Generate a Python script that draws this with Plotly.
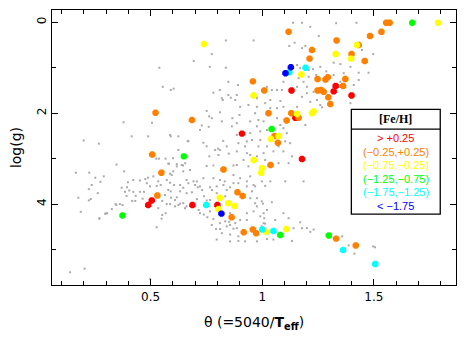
import plotly.graph_objects as go

# Background sample: theta and log g of the comparison stars
bg_theta = [
    0.837, 0.774, 0.693, 0.765, 0.837, 0.539, 0.848, 0.891, 0.554, 0.590, 0.603, 0.781, 0.810,
    0.819, 0.823, 0.848, 0.859, 0.886, 0.751, 0.811, 0.762, 0.866, 0.898, 0.379, 0.506, 0.729,
    0.760, 0.415, 0.590, 0.666, 0.825, 0.736, 0.200, 0.268, 0.841, 0.802, 0.810, 0.624, 0.804,
    0.763, 0.850, 0.525, 0.537, 0.567, 0.600, 0.582, 0.617, 0.645, 0.655, 0.347, 0.751, 0.781,
    0.871, 0.381, 0.165, 0.225, 0.252, 0.290, 0.275, 0.236, 0.223, 0.263, 0.176, 0.232, 0.223,
    0.187, 0.270, 0.305, 0.296, 0.343, 0.362, 0.374, 0.326, 0.385, 0.404, 0.394, 0.370, 0.422,
    0.431, 0.433, 0.452, 0.470, 0.452, 0.483, 0.476, 0.422, 0.398, 0.488, 0.464, 0.417, 0.346,
    0.300, 0.271, 0.204, 0.139, 0.498, 0.579, 0.639, 0.527, 0.572, 0.587, 0.605, 0.632, 0.646,
    0.590, 0.564, 0.591, 0.617, 0.552, 0.572, 0.587, 0.632, 0.646, 0.534, 0.552, 0.567, 0.549,
    0.527, 0.661, 0.685, 0.711, 0.730, 0.707, 0.739, 0.751, 0.661, 0.715, 0.738, 0.754, 0.781,
    0.793, 0.811, 0.852, 0.856, 0.871, 0.856, 0.893, 0.835, 0.781, 0.811, 0.832, 0.856, 0.871,
    0.796, 0.775, 0.692, 0.736, 0.661, 0.676, 0.601, 0.587, 0.557, 0.392, 0.545, 0.669, 0.707,
    0.721, 0.766, 0.624, 0.609, 0.654, 0.721, 0.766, 0.774, 0.811, 0.834, 0.841, 0.856, 0.879,
    0.886, 0.901, 0.931, 0.931, 0.961, 0.976, 0.991, 1.006, 1.021, 0.998, 0.976, 0.954, 0.968,
    0.931, 0.893, 0.841, 0.834, 0.766, 0.856, 0.893, 0.923, 0.976, 0.819, 0.796, 0.998, 1.013,
    1.036, 1.103, 1.185, 1.003, 1.043, 1.006, 1.009, 1.058, 1.095, 1.118, 1.170, 1.013, 0.998,
    1.140, 1.178, 1.200, 1.230, 1.358, 1.387, 1.497, 1.413, 1.133, 1.050, 1.021, 1.215, 1.505,
    1.138, 1.178, 1.215, 1.331, 1.422, 1.253, 1.145, 1.121, 1.178, 1.193, 0.961, 1.447, 1.497,
    1.320, 1.350, 1.395, 1.365, 1.432, 1.476, 1.208, 1.227, 1.260, 1.287, 1.156, 1.170, 1.163,
    1.185, 1.208, 1.242, 1.320, 1.350, 1.410, 1.432, 1.095, 1.156, 1.200, 1.230, 1.043, 1.066,
    1.088, 1.021, 1.178, 1.200, 1.215, 1.245, 1.260, 1.268, 1.081, 1.066, 1.095, 1.036, 1.156,
    1.395, 1.036, 0.976, 1.013, 0.976, 0.879, 0.901, 0.938, 1.066, 1.006, 0.946, 0.886, 0.976,
    1.021, 1.081, 1.095, 1.110, 1.103, 1.125, 1.073, 1.095, 1.050, 1.021, 0.991, 0.983, 1.006,
    0.976, 1.013, 0.946, 0.954, 0.923, 0.931, 0.893, 0.886, 1.156, 1.193, 1.133, 1.118, 1.073,
    0.938, 0.587, 0.624, 0.669, 0.751, 0.789, 0.721, 0.774, 0.819, 0.864, 0.886, 0.931, 0.968,
    0.983, 0.991, 0.946, 0.916, 0.886, 0.871, 0.901, 0.931, 0.961, 0.946, 0.826, 0.796, 0.699,
    0.646, 0.617, 0.594, 0.534, 0.512, 0.497, 0.579, 0.632, 0.609, 0.946, 0.968, 0.489,
]
bg_logg = [
    0.40, 0.70, 0.85, 0.98, 1.00, 1.00, 1.31, 1.38, 1.42, 1.49, 1.46, 1.55, 1.49,
    1.67, 1.71, 1.60, 1.66, 1.60, 1.95, 1.98, 2.07, 2.11, 2.04, 2.20, 2.21, 2.27,
    2.30, 2.51, 2.51, 2.61, 2.61, 2.65, 2.60, 2.67, 2.73, 2.78, 2.81, 2.81, 2.92,
    2.95, 2.89, 3.00, 3.00, 3.00, 2.99, 3.11, 3.12, 3.15, 3.10, 3.13, 3.16, 3.15,
    3.15, 3.28, 3.31, 3.31, 3.42, 3.39, 3.51, 3.58, 3.67, 3.76, 3.86, 3.89, 3.92,
    4.17, 4.32, 4.20, 4.21, 4.00, 4.00, 4.02, 4.11, 3.73, 3.70, 3.63, 3.64, 3.73,
    3.93, 3.82, 3.73, 3.73, 3.48, 3.54, 3.45, 3.47, 3.52, 3.42, 3.88, 3.93, 4.02,
    4.21, 4.31, 5.42, 5.50, 5.65, 3.11, 3.14, 3.60, 3.47, 3.53, 3.58, 3.58, 3.64,
    3.72, 3.80, 3.86, 3.85, 3.93, 4.00, 4.00, 3.99, 3.98, 4.09, 4.24, 4.20, 4.32,
    4.51, 3.76, 3.74, 3.63, 3.69, 3.89, 3.83, 3.92, 4.05, 4.13, 4.23, 4.29, 4.33,
    4.55, 4.55, 4.39, 4.46, 4.54, 4.82, 4.81, 3.21, 3.43, 3.47, 3.50, 3.63, 3.54,
    3.76, 3.69, 3.50, 3.43, 3.47, 3.25, 3.28, 3.33, 3.28, 3.82, 3.58, 3.54, 3.50,
    3.61, 3.63, 4.02, 4.05, 4.09, 4.20, 4.16, 4.46, 4.42, 4.38, 4.49, 4.20, 4.42,
    4.53, 4.35, 4.35, 4.20, 4.16, 4.05, 4.27, 4.42, 4.13, 3.94, 3.87, 3.72, 3.61,
    3.61, 3.54, 3.69, 3.83, 3.91, 4.67, 4.71, 4.82, 4.82, 4.64, 4.78, 3.50, 3.60,
    3.50, 3.50, 3.50, 3.99, 3.96, 4.20, 4.31, 4.35, 4.20, 4.31, 4.40, 4.43, 4.49,
    4.53, 4.53, 4.53, 4.56, 4.71, 4.91, 4.93, 5.09, 4.81, 4.78, 4.77, 4.61, 4.95,
    0.01, 0.01, 0.10, 0.02, 0.01, 0.30, 0.45, 0.52, 0.57, 0.52, 0.40, 0.61, 0.70,
    0.89, 0.92, 0.98, 1.12, 1.11, 1.11, 1.05, 1.03, 0.98, 1.08, 0.94, 1.01, 1.23,
    1.31, 1.20, 1.16, 1.16, 1.31, 1.38, 1.27, 1.31, 1.42, 1.42, 1.53, 1.49, 1.49,
    1.49, 1.42, 1.64, 1.56, 1.75, 1.71, 1.82, 1.87, 1.73, 1.89, 1.86, 1.89, 1.86,
    1.78, 1.71, 1.67, 1.78, 1.86, 1.71, 1.86, 1.82, 2.11, 2.18, 2.18, 2.22, 2.29,
    2.37, 2.26, 2.33, 2.44, 2.62, 2.66, 2.73, 2.84, 2.84, 2.73, 2.59, 2.73, 2.88,
    2.95, 3.03, 2.44, 2.59, 2.73, 2.88, 2.66, 2.84, 2.15, 2.26, 2.95, 3.10, 3.10,
    3.17, 2.48, 2.51, 2.62, 2.73, 2.81, 2.37, 2.11, 2.18, 2.29, 2.48, 2.62, 2.00,
    2.15, 2.40, 2.92, 3.03, 3.14, 3.36, 3.43, 3.50, 3.58, 3.39, 3.58, 3.61, 3.58,
    3.28, 3.17, 3.36, 3.50, 3.39, 3.61, 3.69, 3.72, 3.91, 3.87, 3.98, 2.51,
]

# Programme stars, grouped by [Fe/H] bin
theta_hi = [1.131, 1.329, 1.320, 1.400, 0.909, 1.178, 1.148, 0.489, 0.505, 0.687, 0.799]
logg_hi = [1.50, 1.40, 1.52, 1.61, 2.45, 3.01, 2.10, 4.02, 3.92, 4.02, 4.02]

theta_solar = [1.555, 1.571, 1.534, 1.483, 1.118, 1.333, 1.432, 1.223, 1.400, 1.459, 1.212,
               0.958, 1.248, 1.283, 1.294, 1.372, 1.009, 1.248, 1.263, 1.275, 1.362, 1.296,
               1.305, 1.028, 1.130, 1.163, 1.109, 1.055, 1.070, 1.037, 0.522, 0.685, 0.507,
               0.548, 0.826, 0.530, 0.889, 0.912, 0.863, 0.917, 0.958, 0.973, 1.331, 1.419]
logg_solar = [0.01, 0.01, 0.21, 0.30, 0.21, 0.40, 0.50, 0.61, 0.70, 0.85, 0.80,
              1.30, 1.25, 1.26, 1.21, 1.25, 1.50, 1.50, 1.49, 1.53, 1.40, 1.65,
              1.80, 2.00, 2.00, 2.10, 2.16, 2.50, 2.65, 3.14, 1.99, 2.15, 2.91,
              3.31, 3.24, 3.81, 3.74, 3.82, 4.29, 4.62, 4.56, 4.64, 4.76, 4.91]

theta_mild = [1.788, 1.424, 1.329, 1.398, 0.739, 1.175, 0.961, 1.223, 1.230, 1.156, 1.039,
              1.073, 0.962, 0.999, 0.995, 0.810, 0.804, 0.848, 0.876, 1.018, 1.108]
logg_mild = [0.01, 0.50, 0.70, 0.80, 0.48, 1.15, 1.61, 2.00, 1.96, 2.02, 2.57,
             2.50, 3.03, 3.21, 3.31, 3.86, 4.11, 3.98, 4.04, 4.61, 4.55]

theta_mid = [1.672, 1.042, 0.649, 0.374, 1.081, 1.298]
logg_mid = [0.01, 2.35, 2.95, 4.25, 4.68, 4.69]

theta_poor = [1.121, 1.194, 0.749, 1.000, 1.050, 1.362, 1.506]
logg_poor = [1.10, 1.00, 4.02, 4.56, 4.59, 5.01, 5.32]

theta_vpoor = [1.128, 1.104, 0.817]
logg_vpoor = [0.99, 1.12, 4.21]

bin_labels = ["> +0.25", "(\u22120.25,+0.25)", "(\u22120.75,\u22120.25)",
              "(\u22121.25,\u22120.75)", "(\u22121.75,\u22121.25)", "< \u22121.75"]
bin_colors = ["#ff0000", "#ff8000", "#ffff00", "#00ff00", "#00ffff", "#0000ff"]

fig = go.Figure()
fig.add_trace(go.Scatter(
    x=bg_theta, y=bg_logg, mode="markers",
    marker=dict(symbol="square", size=2, color="#aaaaaa", line=dict(width=0)),
    hoverinfo="skip", showlegend=False))

groups = [(theta_hi, logg_hi), (theta_solar, logg_solar), (theta_mild, logg_mild),
          (theta_mid, logg_mid), (theta_poor, logg_poor), (theta_vpoor, logg_vpoor)]
for (tx, gy), lab, col in zip(groups, bin_labels, bin_colors):
    fig.add_trace(go.Scatter(
        x=tx, y=gy, mode="markers", name=lab,
        marker=dict(symbol="octagon", size=7, color=col, line=dict(width=0)),
        showlegend=False))

# [Fe/H] key drawn as a boxed table inside the plot area
box_x0, box_x1 = 0.741, 0.961
box_y0, box_y1 = 0.258, 0.639
div_y = 0.567
fig.add_shape(type="rect", xref="paper", yref="paper", x0=box_x0, x1=box_x1,
              y0=box_y0, y1=box_y1, line=dict(color="black", width=1.3),
              fillcolor="white", layer="above")
fig.add_shape(type="line", xref="paper", yref="paper", x0=box_x0, x1=box_x1,
              y0=div_y, y1=div_y, line=dict(color="black", width=1.3), layer="above")
key_cx = (box_x0 + box_x1) / 2
fig.add_annotation(x=key_cx, y=0.602, xref="paper", yref="paper", text="<b>[Fe/H]</b>",
                   showarrow=False, xanchor="center", yanchor="middle",
                   font=dict(family="Liberation Serif", size=12, color="black"))
row_y = [0.536, 0.485, 0.435, 0.385, 0.337, 0.288]
for lab, col, ry in zip(bin_labels, bin_colors, row_y):
    fig.add_annotation(x=key_cx, y=ry, xref="paper", yref="paper", text=lab,
                       showarrow=False, xanchor="center", yanchor="middle",
                       font=dict(family="Liberation Sans", size=11, color=col))

axis_common = dict(showline=True, linecolor="black", linewidth=1.3, mirror="allticks",
                   ticks="inside", ticklen=6, tickcolor="black", tickwidth=1.2,
                   showgrid=False, zeroline=False,
                   tickfont=dict(family="DejaVu Sans", size=12, color="black"))

fig.update_xaxes(range=[0.058, 1.868], tick0=0, dtick=0.5,
                 minor=dict(dtick=0.1, ticklen=3.5, ticks="inside", tickcolor="black",
                            tickwidth=1.2, showgrid=False),
                 title=dict(text="\u03b8 (=5040/<b>T</b><sub><b>eff</b></sub>)",
                            font=dict(family="DejaVu Sans", size=14, color="black"),
                            standoff=14),
                 **axis_common)
fig.update_yaxes(range=[5.78, -0.27], tick0=0, dtick=2, tickangle=-90,
                 minor=dict(dtick=1, ticklen=3.5, ticks="inside", tickcolor="black",
                            tickwidth=1.2, showgrid=False),
                 title=dict(text="log(g)",
                            font=dict(family="DejaVu Sans", size=14, color="black"),
                            standoff=10),
                 **axis_common)

fig.update_layout(width=469, height=339, margin=dict(l=52, r=13, t=10, b=54),
                  paper_bgcolor="white", plot_bgcolor="white")

fig.write_html("out.html")
